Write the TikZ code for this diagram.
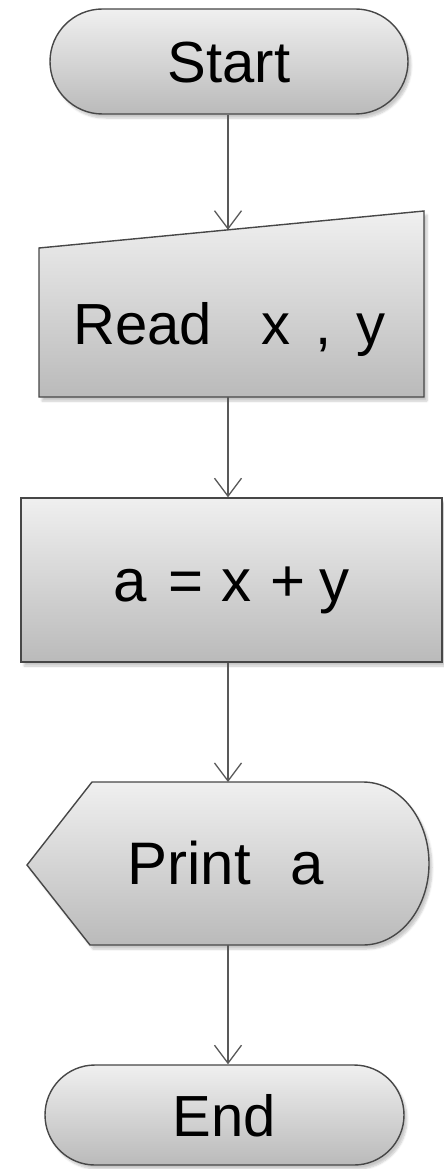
\documentclass[tikz,border=0pt]{standalone}
\usepackage{fontspec}
\setmainfont{Liberation Sans}
\usetikzlibrary{shapes.misc,arrows.meta,shadows.blur}
\begin{document}
\begin{tikzpicture}[x=1pt,y=1pt,
  box/.style={draw=black!72, line width=1.4pt, top color=black!6, bottom color=black!27,
    blur shadow={shadow xshift=3pt,shadow yshift=-4pt,shadow blur steps=6,shadow opacity=22}},
  lbl/.style={font=\fontsize{58}{60}\selectfont, inner sep=0pt, text height=42pt, text depth=0pt},
  flow/.style={draw=black!65, line width=1.3pt, -{Straight Barb[length=18pt,width=27pt]}}]
\useasboundingbox (0,0) rectangle (444,-1169);
% Start
\node[box, rounded rectangle, minimum width=358pt, minimum height=105pt, inner sep=0pt, lbl] (start) at (229,-61.5) {Start};
% Read x, y
\path[box] (39,-248) -- (424,-211) -- (424,-397) -- (39,-397) -- cycle;
\node[lbl] (read) at (229.5,-323.5) {Read\hspace{49pt}x\hspace{25pt},\hspace{25pt}y};
\coordinate (readtop) at (228,-229.8);
\coordinate (readbot) at (228,-397);
% a = x + y
\node[box, rectangle, minimum width=421pt, minimum height=164pt, inner sep=0pt, lbl, font=\fontsize{60}{62}\selectfont] (proc) at (231.5,-580) {a\hspace{22pt}=\hspace{18pt}x\hspace{19pt}+\hspace{14pt}y};
% Print a
\path[box] (27,-865) -- (92,-782) -- (363,-782)
  arc[start angle=90, end angle=-90, x radius=66, y radius=81.5] -- (90,-945) -- cycle;
\node[lbl, font=\fontsize{60}{62}\selectfont] (print) at (226,-863) {Print\hspace{40pt}a};
\coordinate (printtop) at (228,-782);
\coordinate (printbot) at (228,-945);
% End
\node[box, rounded rectangle, minimum width=359pt, minimum height=100pt, inner sep=0pt, lbl] (end) at (224.5,-1115) {End};
% connectors
\coordinate (starttop) at (start.south -| readtop);
\draw[flow] (start.south -| readtop) -- (readtop);
\draw[flow] (readbot) -- (proc.north -| readbot);
\draw[flow] (proc.south -| readbot) -- (printtop);
\draw[flow] (printbot) -- (end.north -| printbot);
\end{tikzpicture}
\end{document}
